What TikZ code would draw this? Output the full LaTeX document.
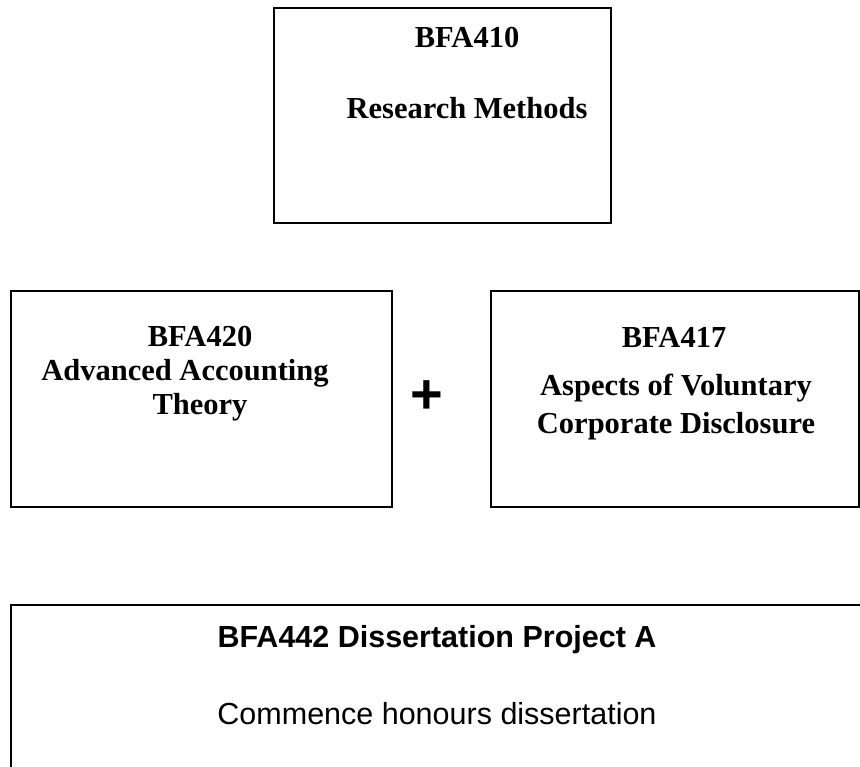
\documentclass[tikz,border=0pt]{standalone}
\usepackage{fontspec}
\setmainfont{Liberation Serif}
\setsansfont{Liberation Sans}
\usetikzlibrary{positioning}

\begin{document}
\begin{tikzpicture}[x=1pt,y=-1pt,
  unitbox/.style={draw,line width=2pt,rectangle,inner sep=0pt,anchor=north west},
  unitname/.style={inner sep=0pt,font=\fontsize{30.5}{36}\selectfont\bfseries},
  projname/.style={inner sep=0pt,font=\sffamily\fontsize{30.5}{36}\selectfont\bfseries},
  projtext/.style={inner sep=0pt,font=\sffamily\fontsize{30.5}{36}\selectfont}]
  \useasboundingbox (0,0) rectangle (860,767);
  % boxes
  \draw(273,7) node[unitbox,minimum width=337pt,minimum height=215pt] (R410) {};
  \draw(10,290) node[unitbox,minimum width=381pt,minimum height=216pt] (R420) {};
  \draw(490,290) node[unitbox,minimum width=368pt,minimum height=216pt] (R417) {};
  \draw(10,604) node[unitbox,minimum width=900pt,minimum height=220pt] (R442) {};
  % texts
  \draw(467,38) node[unitname] (T410) {BFA410};
  \draw(467,108) node[unitname] (M410) {Research Methods};
  \draw(200,337) node[unitname] (T420) {BFA420};
  \draw(185,373) node[unitname] (M420a) {Advanced Accounting};
  \draw(200,407) node[unitname] (M420b) {Theory};
  \draw(674,337) node[unitname] (T417) {BFA417};
  \draw(676,388) node[unitname] (M417a) {Aspects of Voluntary};
  \draw(676,426) node[unitname] (M417b) {Corporate Disclosure};
  \draw(427,397) node[inner sep=0pt,font=\sffamily\bfseries\fontsize{56}{60}\selectfont] (plus) {+};
  \draw(437,640) node[projname] (T442) {BFA442 Dissertation Project A};
  \draw(437,714) node[projtext] (M442) {Commence honours dissertation};
\end{tikzpicture}
\end{document}
